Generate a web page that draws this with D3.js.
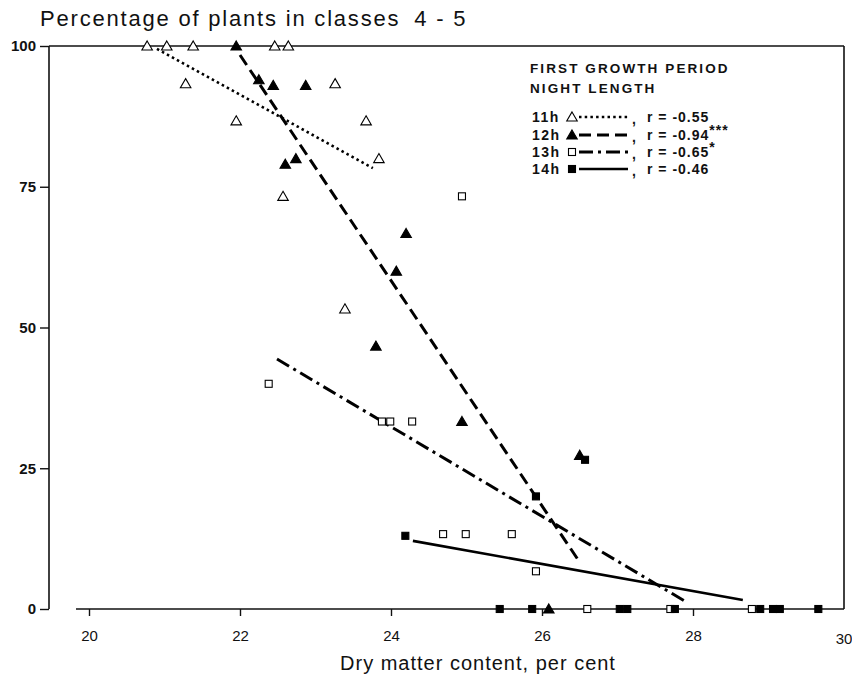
<!DOCTYPE html>
<html><head><meta charset="utf-8">
<script src="https://cdn.jsdelivr.net/npm/d3@7"></script>
<style>
html,body{margin:0;padding:0;background:#fff;}
svg{display:block;font-family:"Liberation Sans",Arial,Helvetica,sans-serif;}
</style></head>
<body>
<svg id="chart" width="852" height="681"></svg>
<script>
// ---- data ----
const xTicks = [20, 22, 24, 26, 28, 30];
const yTicks = [0, 25, 50, 75, 100];

// 11 h night length (open triangles)
const dm11  = [20.77, 21.03, 21.38, 22.46, 22.64, 21.28, 23.26, 21.95, 23.67, 23.84, 22.57, 23.39];
const pct11 = [100, 100, 100, 100, 100, 93.3, 93.3, 86.7, 86.7, 80, 73.3, 53.3];
// 12 h (filled triangles)
const dm12  = [21.95, 22.25, 22.44, 22.87, 22.60, 22.74, 24.20, 24.07, 23.80, 24.94, 26.50, 26.09];
const pct12 = [100, 94, 93, 93, 79, 80, 66.7, 60, 46.7, 33.3, 27.3, 0];
// 13 h (open squares)
const dm13  = [24.94, 22.38, 23.88, 23.99, 24.28, 24.69, 24.99, 25.60, 25.92, 26.60, 27.70, 28.78];
const pct13 = [73.3, 40, 33.3, 33.3, 33.3, 13.3, 13.3, 13.3, 6.7, 0, 0, 0];
// 14 h (filled squares)
const dm14  = [24.19, 25.92, 26.57, 25.44, 25.87, 27.03, 27.13, 27.76, 28.89, 29.06, 29.15, 29.66];
const pct14 = [13, 20, 26.5, 0, 0, 0, 0, 0, 0, 0, 0, 0];

// regression lines: [x start, x end], [y start, y end]
const fit11x = [20.90, 23.76], fit11y = [99.5, 78.3];
const fit12x = [22.00, 26.50], fit12y = [98.4, 8.3];
const fit13x = [22.49, 27.93], fit13y = [44.4, 1.1];
const fit14x = [24.29, 28.66], fit14y = [12.1, 1.6];

const nightLabels = ["11h", "12h", "13h", "14h"];
const rLabels = ["r = -0.55", "r = -0.94", "r = -0.65", "r = -0.46"];
const rSig = ["", "***", "*", ""];

// ---- drawing ----
const svg = d3.select("#chart");
const x = d3.scaleLinear().domain([20, 30]).range([89, 844]);
const y = d3.scaleLinear().domain([0, 100]).range([609, 46]);
const leftX = 49;

const series = [
  {xs: dm11, ys: pct11, shape: "tri", filled: false, fx: fit11x, fy: fit11y, dash: "2.5,3.2", w: 2.6},
  {xs: dm12, ys: pct12, shape: "tri", filled: true,  fx: fit12x, fy: fit12y, dash: "12,6", w: 3},
  {xs: dm13, ys: pct13, shape: "sq",  filled: false, fx: fit13x, fy: fit13y, dash: "14,5,3,5", w: 3},
  {xs: dm14, ys: pct14, shape: "sq",  filled: true,  fx: fit14x, fy: fit14y, dash: null, w: 2.6}
];

// frame
const frame = svg.append("g").attr("stroke", "#111").attr("fill", "none").attr("stroke-width", 1.6);
frame.append("line").attr("x1", leftX).attr("x2", x(30)).attr("y1", y(100)).attr("y2", y(100));
frame.append("line").attr("x1", x(30)).attr("x2", x(30)).attr("y1", y(100)).attr("y2", y(0));
frame.append("line").attr("x1", leftX).attr("x2", leftX).attr("y1", y(100)).attr("y2", y(0));
frame.append("line").attr("x1", 76).attr("x2", x(30)).attr("y1", y(0)).attr("y2", y(0));

// y axis
const yAxis = d3.axisLeft(y).tickValues(yTicks).tickSize(9).tickPadding(4).tickFormat(d3.format("d"));
const gy = svg.append("g").attr("transform", `translate(${leftX},0)`).call(yAxis);
gy.select(".domain").remove();
gy.selectAll(".tick line").attr("stroke", "#111").attr("stroke-width", 1.4);
gy.selectAll(".tick text").attr("font-size", 15).attr("font-weight", "bold").attr("fill", "#111")
  .attr("font-family", "Liberation Sans, Arial, sans-serif");

// x axis
const xAxis = d3.axisBottom(x).tickValues(xTicks.slice(0, 5)).tickSize(7).tickPadding(14).tickFormat(d3.format("d"));
const gx = svg.append("g").attr("transform", `translate(0,${y(0)})`).call(xAxis);
gx.select(".domain").remove();
gx.selectAll(".tick line").attr("stroke", "#111").attr("stroke-width", 1.4);
gx.selectAll(".tick text").attr("font-size", 15).attr("fill", "#111")
  .attr("font-family", "Liberation Sans, Arial, sans-serif");
svg.append("text").attr("x", x(30)).attr("y", y(0) + 35).attr("text-anchor", "middle")
  .attr("font-size", 15).attr("fill", "#111").text(xTicks[5]);

// regression lines
series.forEach(s => {
  svg.append("line")
    .attr("x1", x(s.fx[0])).attr("y1", y(s.fy[0]))
    .attr("x2", x(s.fx[1])).attr("y2", y(s.fy[1]))
    .attr("stroke", "#000").attr("stroke-width", s.w)
    .attr("stroke-dasharray", s.dash);
});

// markers
const triPath = d3.symbol().type(d3.symbolTriangle).size(48);
function drawMarker(g, s, px, py) {
  if (s.shape === "tri") {
    g.append("path").attr("d", triPath()).attr("transform", `translate(${px},${py + 1})`)
      .attr("fill", s.filled ? "#000" : "#fff").attr("stroke", "#000").attr("stroke-width", 1.1);
  } else {
    g.append("rect").attr("x", px - 3.5).attr("y", py - 3.5).attr("width", 7).attr("height", 7)
      .attr("fill", s.filled ? "#000" : "#fff").attr("stroke", "#000").attr("stroke-width", 1.1);
  }
}
const gm = svg.append("g");
series.forEach(s => {
  s.xs.forEach((v, i) => drawMarker(gm, s, x(v), y(s.ys[i])));
});

// titles
const tt = svg.append("text").attr("x", 40).attr("y", 26).attr("font-size", 22).attr("letter-spacing", 1.8)
  .attr("fill", "#111");
tt.append("tspan").text("Percentage of plants in classes");
tt.append("tspan").attr("dx", 14).text("4 - 5");
svg.append("text").attr("x", 478).attr("y", 670).attr("text-anchor", "middle").attr("font-size", 20)
  .attr("letter-spacing", 1).attr("fill", "#111").text("Dry matter content, per cent");

// legend
const lg = svg.append("g").attr("fill", "#111").attr("font-weight", "bold");
lg.append("text").attr("x", 530).attr("y", 73).attr("font-size", 13.5).attr("letter-spacing", 2.1).text("FIRST GROWTH PERIOD");
lg.append("text").attr("x", 530).attr("y", 93).attr("font-size", 13.5).attr("letter-spacing", 2.1).text("NIGHT LENGTH");
const rowY = [117, 135, 152, 169];
series.forEach((s, i) => {
  const ry = rowY[i];
  lg.append("text").attr("x", 532).attr("y", ry + 5).attr("font-size", 14).attr("letter-spacing", 1.5).text(nightLabels[i]);
  drawMarker(lg, s, 572, ry);
  lg.append("line").attr("x1", 579).attr("x2", 628).attr("y1", ry).attr("y2", ry)
    .attr("stroke", "#000").attr("stroke-width", s.w).attr("stroke-dasharray", s.dash);
  lg.append("text").attr("x", 632).attr("y", ry + 7).attr("font-size", 14).text(",");
  const t = lg.append("text").attr("x", 647).attr("y", ry + 5).attr("font-size", 14).attr("letter-spacing", 1);
  t.append("tspan").text(rLabels[i]);
  if (rSig[i]) t.append("tspan").attr("dy", -5).attr("font-size", 14).text(rSig[i]);
});
</script>
</body></html>
